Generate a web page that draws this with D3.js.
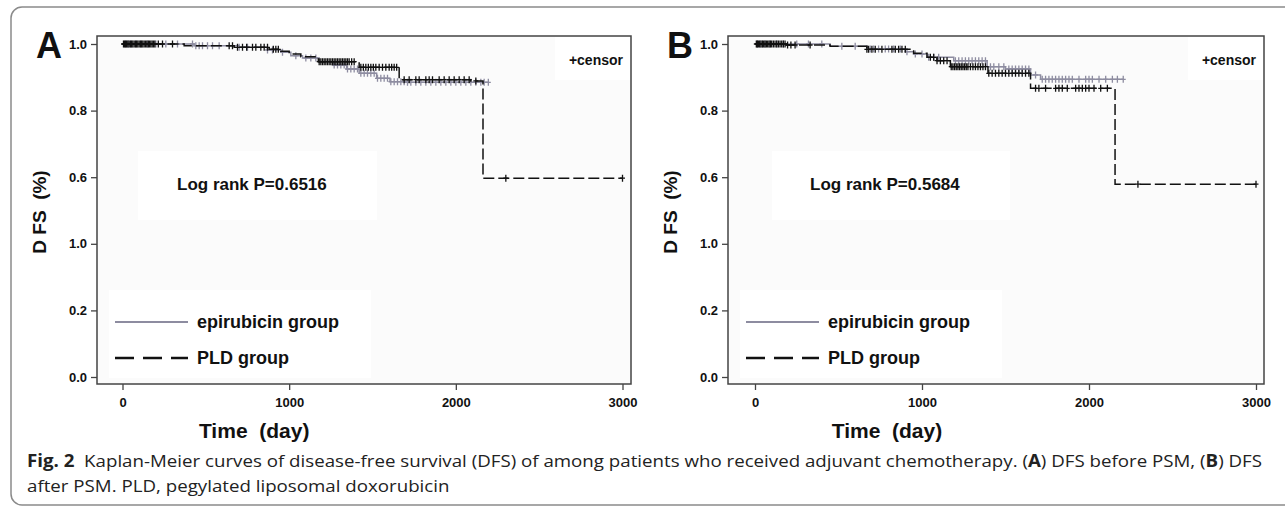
<!DOCTYPE html>
<html lang="en">
<head>
<meta charset="UTF-8" />
<title>DFS Kaplan-Meier</title>
<style>
  body { margin: 0; background: #fff; }
  svg { display: block; }
  .chart text { font-family: "Liberation Sans", Arial, sans-serif; font-weight: bold; fill: #111; }
  .axis text { font-size: 13px; }
  .axis line { stroke: #444; stroke-width: 1.3; }
  .chart .caption { font-family: "Open Sans", "Noto Sans", sans-serif; font-weight: normal; font-size: 17px; fill: #222; }
</style>
<script src="https://d3js.org/d3.v7.min.js"></script>
</head>
<body>
<script>
// ---- data ----
const xTicks = [0, 1000, 2000, 3000];
const yTicks = [0, 0.2, 0.4, 0.6, 0.8, 1.0];
const yTickLabels = ["0.0", "0.2", "1.0", "0.6", "0.8", "1.0"];   // as printed in the original
const seriesNames = ["epirubicin group", "PLD group"];
const panelLetters = ["A", "B"];
const logRankP = ["0.6516", "0.5684"];

// [time (day), survival from that time on]
const epiStepsA = [[0,1.0],[430,0.995],[700,0.99],[870,0.982],[950,0.975],[1010,0.965],[1080,0.958],[1180,0.947],[1265,0.937],[1345,0.925],[1420,0.912],[1525,0.897],[1605,0.887],[1700,0.885]];
const epiEndA = 2195;
const epiCensorA = [20,35,50,80,110,150,200,260,330,420,440,460,480,510,540,580,700,750,870,900,960,1040,1100,1130,1160,1270,1290,1310,1330,1350,1370,1390,1410,1430,1450,1470,1490,1510,1530,1550,1570,1590,1610,1630,1650,1670,1690,1710,1730,1760,1790,1820,1850,1880,1910,1940,1970,2000,2030,2060,2090,2120,2150,2170,2195];
const pldStepsA = [[0,1.0],[370,0.995],[670,0.99],[880,0.984],[950,0.978],[1000,0.97],[1070,0.962],[1175,0.947],[1420,0.93],[1660,0.893],[2090,0.889],[2163,0.597]];
const pldEndA = 3000;
const pldCensorA = [6,12,18,25,32,40,48,55,62,70,78,85,92,100,108,115,122,130,138,146,155,162,170,178,186,194,215,240,300,640,660,690,720,745,780,800,830,850,870,905,920,935,1180,1190,1200,1210,1220,1230,1240,1250,1260,1270,1280,1290,1300,1310,1320,1330,1340,1350,1360,1375,1390,1430,1445,1460,1475,1490,1505,1520,1540,1560,1580,1600,1615,1630,1645,1690,1720,1760,1780,1820,1840,1860,1900,1930,1960,1990,2020,2050,2080,2120,2300,3000];

const epiStepsB = [[0,1.0],[450,0.993],[670,0.985],[900,0.977],[950,0.97],[1030,0.96],[1190,0.95],[1390,0.932],[1500,0.925],[1650,0.907],[1710,0.894]];
const epiEndB = 2205;
const epiCensorB = [15,30,45,60,90,130,170,250,320,400,520,600,690,710,740,780,800,830,870,910,960,1000,1040,1070,1100,1200,1220,1240,1260,1280,1300,1320,1340,1360,1380,1410,1430,1460,1490,1520,1540,1560,1580,1600,1620,1640,1680,1720,1740,1760,1780,1800,1820,1840,1860,1880,1900,1940,1980,2000,2020,2060,2100,2140,2170,2205];
const pldStepsB = [[0,1.0],[190,0.997],[450,0.993],[670,0.984],[950,0.972],[1030,0.96],[1090,0.95],[1170,0.932],[1395,0.912],[1650,0.867],[2156,0.579]];
const pldEndB = 3000;
const pldCensorB = [8,14,20,28,36,44,52,60,68,76,84,92,100,110,120,130,140,150,160,170,180,195,215,240,330,670,680,700,720,760,820,840,860,880,900,1050,1070,1090,1110,1130,1150,1175,1185,1195,1205,1215,1225,1235,1245,1255,1265,1275,1290,1305,1320,1335,1350,1365,1380,1400,1420,1440,1460,1480,1500,1520,1540,1560,1580,1600,1620,1640,1680,1700,1740,1800,1820,1840,1870,1920,1940,1960,1980,2000,2030,2070,2110,2293,3000];

const W = 1285, H = 507;
const GREY = "#8d8ca0", BLACK = "#111";

const svg = d3.select("body").append("svg")
  .attr("width", W).attr("height", H)
  .attr("class", "chart");

// outer rounded frame of the figure
svg.append("rect")
  .attr("x", 11).attr("y", 7).attr("width", W + 20).attr("height", 498)
  .attr("rx", 11)
  .attr("fill", "none").attr("stroke", "#8a8a8a").attr("stroke-width", 1.5);

const panels = [
  { left: 97, right: 631, x0: 122.5, x1: 622.5, letterX: 36, labelX: 46, logBox: [138, 377], logX: 177,
    epi: { steps: epiStepsA, end: epiEndA, censor: epiCensorA },
    pld: { steps: pldStepsA, end: pldEndA, censor: pldCensorA } },
  { left: 728, right: 1264, x0: 755, x1: 1256, letterX: 667, labelX: 677, logBox: [772, 1010], logX: 810,
    epi: { steps: epiStepsB, end: epiEndB, censor: epiCensorB },
    pld: { steps: pldStepsB, end: pldEndB, censor: pldCensorB } }
];
const plotTop = 36, plotBottom = 384;

panels.forEach((p, i) => {
  const x = d3.scaleLinear().domain([0, 3000]).range([p.x0, p.x1]);
  const y = d3.scaleLinear().domain([0, 1]).range([377, 44]);
  const g = svg.append("g");

  // plot background + white boxes behind annotations
  g.append("rect").attr("x", p.left).attr("y", plotTop)
    .attr("width", p.right - p.left).attr("height", plotBottom - plotTop)
    .attr("fill", "#fbfbfb");
  g.append("rect").attr("x", p.logBox[0]).attr("y", 151)
    .attr("width", p.logBox[1] - p.logBox[0]).attr("height", 69).attr("fill", "#fff");
  g.append("rect").attr("x", p.left + 12).attr("y", 290)
    .attr("width", 262).attr("height", 88).attr("fill", "#fff");
  g.append("rect").attr("x", p.right - 76).attr("y", plotTop + 1)
    .attr("width", 75).attr("height", 43).attr("fill", "#fff");

  // axes
  const ax = g.append("g").attr("class", "axis")
    .attr("transform", `translate(0,${plotBottom})`)
    .call(d3.axisBottom(x).tickValues(xTicks).tickSize(6).tickPadding(8).tickFormat(d3.format("d")));
  const ay = g.append("g").attr("class", "axis")
    .attr("transform", `translate(${p.left},0)`)
    .call(d3.axisLeft(y).tickValues(yTicks).tickSize(6).tickPadding(4)
      .tickFormat((d, k) => yTickLabels[k]));
  ax.select(".domain").remove();
  ay.select(".domain").remove();

  g.append("rect").attr("x", p.left).attr("y", plotTop)
    .attr("width", p.right - p.left).attr("height", plotBottom - plotTop)
    .attr("fill", "none").attr("stroke", "#444").attr("stroke-width", 1.5);

  // curves
  const line = d3.line().x(d => x(d[0])).y(d => y(d[1])).curve(d3.curveStepAfter);
  const survAt = (steps, t) => {
    const k = d3.bisector(d => d[0]).right(steps, t) - 1;
    return steps[Math.max(0, k)][1];
  };
  const drawSeries = (s, color, dash, width) => {
    const pts = s.steps.concat([[s.end, s.steps[s.steps.length - 1][1]]]);
    g.append("path").datum(pts).attr("d", line)
      .attr("fill", "none").attr("stroke", color).attr("stroke-width", width)
      .attr("stroke-dasharray", dash);
    g.append("g").selectAll("path").data(s.censor).join("path")
      .attr("d", t => {
        const cx = x(t), cy = y(survAt(s.steps, t));
        return `M${cx - 2.5},${cy}h5M${cx},${cy - 3.5}v7`;
      })
      .attr("stroke", color).attr("stroke-width", 1.3).attr("fill", "none");
  };
  drawSeries(p.epi, GREY, null, 1.5);
  drawSeries(p.pld, BLACK, "11,4", 1.5);

  // annotations
  g.append("text").attr("x", p.right - 8).attr("y", 65)
    .attr("text-anchor", "end").style("font-size", "14px").text("+censor");
  g.append("text").attr("x", p.logX).attr("y", 190)
    .style("font-size", "17px").text("Log rank P=" + logRankP[i]);

  // legend
  const lx = p.left + 18;
  g.append("line").attr("x1", lx).attr("x2", lx + 73).attr("y1", 322).attr("y2", 322)
    .attr("stroke", GREY).attr("stroke-width", 1.8);
  g.append("line").attr("x1", lx).attr("x2", lx + 73).attr("y1", 358).attr("y2", 358)
    .attr("stroke", BLACK).attr("stroke-width", 2.6).attr("stroke-dasharray", "19,9");
  g.append("text").attr("x", lx + 82).attr("y", 328).style("font-size", "18px").text(seriesNames[0]);
  g.append("text").attr("x", lx + 82).attr("y", 364).style("font-size", "18px").text(seriesNames[1]);

  // titles
  g.append("text").attr("x", p.letterX).attr("y", 58).style("font-size", "36px").text(panelLetters[i]);
  g.append("text").attr("transform", `translate(${p.labelX},${212}) rotate(-90)`)
    .attr("text-anchor", "middle").attr("xml:space", "preserve")
    .style("font-size", "19px").text("D FS  (%)");
  g.append("text").attr("x", x(1000) - 35).attr("y", 438)
    .attr("text-anchor", "middle").attr("xml:space", "preserve")
    .style("font-size", "21px").text("Time  (day)");
});

// caption (condensed to the width of the original text block)
const cap1 = svg.append("text").attr("class", "caption").attr("x", 27).attr("y", 467);
cap1.append("tspan").style("font-weight", "bold").text("Fig. 2");
cap1.append("tspan").attr("xml:space", "preserve").text("  Kaplan-Meier curves of disease-free survival (DFS) of among patients who received adjuvant chemotherapy. (");
cap1.append("tspan").style("font-weight", "bold").text("A");
cap1.append("tspan").text(") DFS before PSM, (");
cap1.append("tspan").style("font-weight", "bold").text("B");
cap1.append("tspan").text(") DFS");
const cap2 = svg.append("text").attr("class", "caption").attr("x", 27).attr("y", 492)
  .text("after PSM. PLD, pegylated liposomal doxorubicin");
const squeeze = 1235 / cap1.node().getComputedTextLength();
cap1.attr("textLength", 1235).attr("lengthAdjust", "spacingAndGlyphs");
cap2.attr("textLength", cap2.node().getComputedTextLength() * squeeze).attr("lengthAdjust", "spacingAndGlyphs");
</script>
</body>
</html>
